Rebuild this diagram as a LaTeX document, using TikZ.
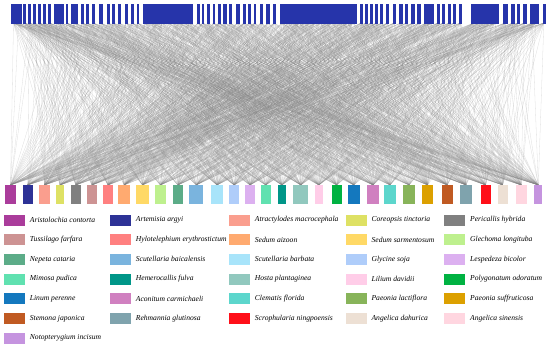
\documentclass[tikz,border=0pt]{standalone}
\usepackage{fontspec}
\setmainfont{Liberation Serif}
\usetikzlibrary{positioning,backgrounds}
\definecolor{topblue}{RGB}{38,52,170}
\definecolor{hc1}{RGB}{170,60,155}
\definecolor{hc2}{RGB}{45,50,150}
\definecolor{hc3}{RGB}{250,158,142}
\definecolor{hc4}{RGB}{222,225,100}
\definecolor{hc5}{RGB}{128,128,128}
\definecolor{hc6}{RGB}{205,147,147}
\definecolor{hc7}{RGB}{255,128,128}
\definecolor{hc8}{RGB}{255,170,112}
\definecolor{hc9}{RGB}{255,217,102}
\definecolor{hc10}{RGB}{190,240,142}
\definecolor{hc11}{RGB}{92,172,136}
\definecolor{hc12}{RGB}{122,180,222}
\definecolor{hc13}{RGB}{168,228,250}
\definecolor{hc14}{RGB}{175,205,250}
\definecolor{hc15}{RGB}{220,176,240}
\definecolor{hc16}{RGB}{96,225,176}
\definecolor{hc17}{RGB}{0,150,136}
\definecolor{hc18}{RGB}{145,200,190}
\definecolor{hc19}{RGB}{255,205,232}
\definecolor{hc20}{RGB}{0,178,66}
\definecolor{hc21}{RGB}{20,120,190}
\definecolor{hc22}{RGB}{208,128,192}
\definecolor{hc23}{RGB}{92,214,204}
\definecolor{hc24}{RGB}{136,180,90}
\definecolor{hc25}{RGB}{220,160,0}
\definecolor{hc26}{RGB}{192,90,34}
\definecolor{hc27}{RGB}{127,163,173}
\definecolor{hc28}{RGB}{255,15,25}
\definecolor{hc29}{RGB}{237,224,212}
\definecolor{hc30}{RGB}{255,214,224}
\definecolor{hc31}{RGB}{197,148,223}
\tikzset{
  topbar/.style={rectangle, fill=topblue, draw=topblue, line width=0.2pt, inner sep=0pt, outer sep=0pt, minimum height=19pt},
  herb/.style={rectangle, inner sep=0pt, outer sep=0pt, minimum height=19pt},
  swatch/.style={rectangle, inner sep=0pt, minimum width=21pt, minimum height=11pt},
  herbname/.style={inner sep=0pt, font=\fontsize{7.6}{9}\selectfont\itshape},
  link/.style={draw=black!50, line width=0.3pt, draw opacity=0.27}
}
\begin{document}
\begin{tikzpicture}[x=1pt, y=-1pt]
\useasboundingbox (0,0) rectangle (550,349);
\foreach \a/\b [count=\k] in {11/16, 16/21, 23.5/25.5, 28.3/30.3, 32.8/35.5, 38.3/40, 42.8/45, 48.3/50.5, 54/58.4, 58.4/62.7, 65.7/67.5, 71/77.5, 81.5/83, 85.8/87.8, 92.3/94.3, 99/102, 107.3/109, 112.3/114.3, 117.7/120, 125/127.3, 131/133, 136.7/138.5, 143/148.5, 148.5/154, 154/159.5, 159.5/165, 165/170.5, 170.5/176, 176/181.5, 181.5/187, 187/192.5, 197/199, 202/203.5, 207/208.7, 212.7/214.5, 217.8/220, 223.5/226, 229/231.5, 235.7/239, 243/245, 248.5/250.5, 253.8/255.5, 259.7/261.7, 266.5/269.5, 273.5/275.3, 280/285.4, 285.4/290.8, 290.8/296.2, 296.2/301.6, 301.6/307, 307/312.4, 312.4/317.9, 317.9/323.3, 323.3/328.7, 328.7/334.1, 334.1/339.5, 339.5/344.9, 344.9/350.3, 350.3/355.7, 360/362, 364.8/366.8, 370/372, 375.5/377.5, 380.5/382.5, 386/388.5, 393/395, 399.5/402, 405.3/407.5, 411.5/414, 417/420.5, 424/428.5, 428.5/433, 437/439, 442/444.5, 448/450.5, 453.3/455, 459.3/461.5, 471.3/476.6, 476.6/481.9, 481.9/487.1, 487.1/492.4, 492.4/497.7, 502.7/507.5, 511.5/513.8, 517/519, 523/526, 530/534.2, 534.2/538.3, 543/544.7} {
  \pgfmathsetmacro\w{\b-\a}
  \pgfmathsetmacro\c{(\a+\b)/2}
  \node[topbar, minimum width=\w pt] (t\k) at (\c,13.5) {};
  \xdef\ntop{\k}
}
\foreach \a/\b [count=\k] in {5/16, 22.7/32.7, 39/50, 56/64, 70.7/81, 87/97, 103/113, 118.3/130, 136/149, 155/165.7, 172.7/183.3, 189.3/203.3, 210.7/223.3, 229.3/239, 245/255, 260.7/270.7, 277.7/286, 293.3/308.3, 315/322.7, 331.7/341.7, 347.7/360, 367.3/379, 384.3/395.7, 403.3/415, 422.3/433, 441.7/452.7, 460.3/471.7, 480.7/490.7, 497.7/507.7, 515.7/526.7, 534.3/542.3} {
  \pgfmathsetmacro\w{\b-\a}
  \pgfmathsetmacro\c{(\a+\b)/2}
  \node[herb, fill=hc\k, minimum width=\w pt] (b\k) at (\c,194.5) {};
}
\pgfmathsetseed{2024}
\begin{pgfonlayer}{background}
\foreach \i in {1,...,\ntop} {
  \foreach \j in {1,...,31} {
    \pgfmathtruncatemacro\keep{rnd<0.55}
    \ifnum\keep=1 \draw[link] (t\i.south) -- (b\j.north); \fi
  }
}
\end{pgfonlayer}
\foreach \name [count=\k] in {Aristolochia contorta, Artemisia argyi, Atractylodes macrocephala, Coreopsis tinctoria, Pericallis hybrida, Tussilago farfara, Hylotelephium erythrostictum, Sedum aizoon, Sedum sarmentosum, Glechoma longituba, Nepeta cataria, Scutellaria baicalensis, Scutellaria barbata, Glycine soja, Lespedeza bicolor, Mimosa pudica, Hemerocallis fulva, Hosta plantaginea, Lilium davidii, Polygonatum odoratum, Linum perenne, Aconitum carmichaeli, Clematis florida, Paeonia lactiflora, Paeonia suffruticosa, Stemona japonica, Rehmannia glutinosa, Scrophularia ningpoensis, Angelica dahurica, Angelica sinensis, Notopterygium incisum} {
  \pgfmathtruncatemacro\col{mod(\k-1,5)}
  \pgfmathtruncatemacro\row{(\k-1)/5}
  \pgfmathsetmacro\sx{{14.5,120.5,239.5,356.2,454.8}[\col]}
  \pgfmathsetmacro\sy{220+19.7*\row}
  \node[swatch, fill=hc\k] (s\k) at (\sx,\sy) {};
  \node[herbname, right=4.5pt of s\k] (n\k) {\name};
}
\end{tikzpicture}
\end{document}
